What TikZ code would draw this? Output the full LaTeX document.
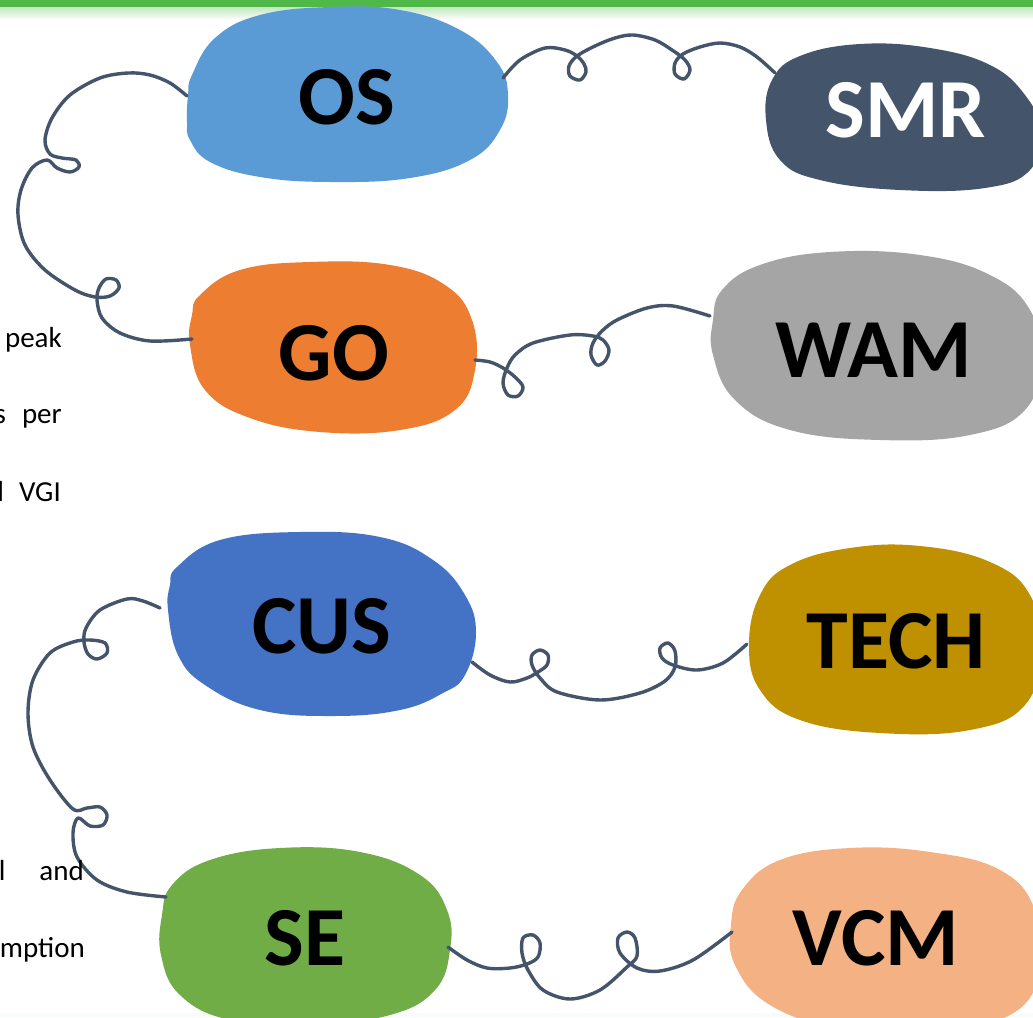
\documentclass[tikz,border=0pt]{standalone}
\usepackage{fontspec}
\setmainfont{Carlito}
\definecolor{oscol}{HTML}{5B9BD5}
\definecolor{smrcol}{HTML}{44546A}
\definecolor{gocol}{HTML}{ED7D31}
\definecolor{wamcol}{HTML}{A5A5A5}
\definecolor{cuscol}{HTML}{4472C4}
\definecolor{techcol}{HTML}{BF9000}
\definecolor{secol}{HTML}{70AD47}
\definecolor{vcmcol}{HTML}{F4B183}
\definecolor{linec}{HTML}{44546A}
\definecolor{barcol}{HTML}{50B848}
\begin{document}
\begin{tikzpicture}[x=1pt,y=-1pt,
  lbl/.style={font=\fontsize{84}{84}\selectfont\bfseries, anchor=base, inner sep=0pt},
  side/.style={font=\fontsize{29}{29}\selectfont, anchor=base east, inner sep=0pt},
  curl/.style={draw=linec, line width=3.4pt, line cap=round, line join=round},
  blobshape/.style={smooth cycle, tension=0.7}]
\useasboundingbox (0,0) rectangle (1033,1017);
\clip (0,0) rectangle (1033,1017);
\fill[white] (0,0) rectangle (1033,1017);
% top bar
\fill[barcol] (0,0) rectangle (1033,7);
\shade[top color=barcol!35, bottom color=white] (0,7) rectangle (1033,20);
\fill[barcol!4] (0,1013) rectangle (1033,1017);

% blobs
\fill[oscol] plot[blobshape] coordinates {(192,75) (215,38) (260,15) (330,7) (400,10) (460,30) (497,62) (508,95) (500,130) (470,160) (410,178) (330,182) (260,177) (210,162) (190,140) (187,122) (188,95)};
\fill[smrcol] plot[blobshape] coordinates {(772,80) (800,56) (860,44) (930,48) (990,65) (1025,95) (1040,130) (1030,170) (985,188) (900,190) (820,180) (780,160) (766,120)};
\fill[gocol] plot[blobshape] coordinates {(200,295) (240,270) (310,262) (390,265) (445,285) (472,320) (475,370) (455,410) (400,430) (320,432) (250,418) (205,390) (190,345) (192,315)};
\fill[wamcol] plot[blobshape] coordinates {(722,290) (760,265) (830,252) (920,255) (990,275) (1030,310) (1040,360) (1025,410) (970,435) (880,440) (790,430) (735,400) (713,355) (713,320)};
\fill[cuscol] plot[blobshape] coordinates {(177,567) (220,540) (300,532) (380,537) (433,560) (465,595) (476,633) (465,675) (443,693) (400,710) (333,716) (260,710) (205,685) (178,655) (168,610) (170,585)};
\fill[techcol] plot[blobshape] coordinates {(760,595) (790,565) (850,548) (920,546) (990,562) (1030,595) (1040,650) (1025,705) (970,730) (880,733) (800,720) (760,690) (749,645)};
\fill[secol] plot[blobshape] coordinates {(172,885) (210,860) (280,848) (360,852) (420,875) (447,910) (450,950) (435,990) (390,1015) (310,1025) (230,1020) (180,995) (161,955) (162,915)};
\fill[vcmcol] plot[blobshape] coordinates {(742,890) (780,860) (850,848) (930,852) (1000,870) (1035,910) (1040,970) (1010,1015) (930,1030) (840,1028) (770,1005) (735,965) (731,925)};

% labels
\node[lbl] (os) at (347,124) {OS};
\node[lbl, text=white] (smr) at (906,137) {SMR};
\node[lbl] (go) at (334,380) {GO};
\node[lbl] (wam) at (874,377) {WAM};
\node[lbl] (cus) at (322,653) {CUS};
\node[lbl] (tech) at (896,668) {TECH};
\node[lbl] (se) at (305,965) {SE};
\node[lbl] (vcm) at (876,965) {VCM};

% connector end points
\coordinate (osW) at (187,96);
\coordinate (goW) at (192,339);
\coordinate (osE) at (503,78);
\coordinate (smrW) at (775,73);
\coordinate (goE) at (475,360);
\coordinate (wamW) at (710,316);
\coordinate (cusE) at (472,662);
\coordinate (techW) at (747,644);
\coordinate (cusW) at (160,608);
\coordinate (seW) at (166,897);
\coordinate (seE) at (448,947);
\coordinate (vcmW) at (732,932);

% connectors
\draw[curl] plot[smooth, tension=0.55] coordinates {(osW) (170,83) (150,75) (128,73) (100,78) (70,95) (52,118) (45,140) (50,154) (62,158) (76,160) (79,167) (70,172) (57,168) (47,160) (32,168) (21,190) (18,215) (25,245) (45,270) (75,290) (95,297) (110,296) (119,288) (116,280) (106,279) (99,288) (97,300) (102,318) (120,333) (150,341) (goW)};
\draw[curl] plot[smooth, tension=0.55] coordinates {(osE) (520,60) (545,48) (565,50) (577,56) (584,64) (586,72) (580,80) (570,76) (569,66) (577,56) (595,46) (615,38) (633,35) (655,40) (672,50) (685,60) (690,70) (684,79) (675,74) (675,63) (683,54) (700,47) (720,43) (740,47) (757,57) (smrW)};
\draw[curl] plot[smooth, tension=0.55] coordinates {(goE) (490,362) (503,368) (515,377) (523,387) (518,396) (508,395) (503,383) (507,368) (515,355) (533,343) (570,335) (593,336) (603,340) (609,350) (605,361) (597,365) (591,355) (593,343) (602,331) (617,320) (647,308) (673,306) (wamW)};
\draw[curl] plot[smooth, tension=0.55] coordinates {(cusE) (490,675) (510,682) (527,678) (538,672) (547,665) (548,655) (540,650) (532,655) (532,665) (540,678) (557,692) (600,700) (640,693) (665,681) (675,667) (675,651) (668,643) (660,648) (662,658) (673,665) (697,670) (723,663) (techW)};
\draw[curl] plot[smooth, tension=0.55] coordinates {(cusW) (143,601) (127,599) (100,610) (86,628) (84,642) (88,654) (97,659) (107,653) (105,643) (90,640) (73,642) (50,653) (33,680) (28,713) (33,747) (50,780) (73,809) (87,808) (100,807) (107,815) (103,825) (90,826) (78,818) (73,833) (77,857) (97,880) (127,892) (seW)};
\draw[curl] plot[smooth, tension=0.55] coordinates {(seE) (467,960) (487,968) (510,968) (527,964) (538,957) (540,943) (533,935) (523,938) (522,953) (528,970) (543,990) (570,999) (600,990) (627,967) (637,956) (635,938) (627,932) (618,938) (620,953) (637,968) (660,971) (693,960) (vcmW)};

% left text fragments
\node[side] (t1) at (62,347) {peak};
\node[side] (t2) at (62,423) {s\hskip 16pt per};
\node[side] (t3) at (61,501) {l\hskip 15pt VGI};
\node[side] (t4) at (84,880) {l\hskip 34pt and};
\node[side] (t5) at (85,957) {mption};
\end{tikzpicture}
\end{document}
